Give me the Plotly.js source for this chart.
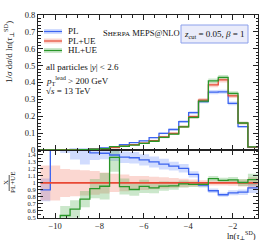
<!DOCTYPE html>
<html><head><meta charset="utf-8">
<script src="https://cdn.plot.ly/plotly-3.0.1.min.js"></script>
<style>html,body{margin:0;padding:0;background:#fff}#plot{width:266px;height:240px}</style>
</head><body><div id="plot"></div>
<script>
// bin edges in ln(tau_perp^SD)
var binEdges = [-10.66,-10.215,-9.77,-9.325,-8.88,-8.435,-7.99,-7.545,-7.10,-6.655,-6.21,-5.765,-5.32,-4.875,-4.43,-3.985,-3.54,-3.095,-2.65,-2.205,-1.76,-1.315,-0.87];
// 1/sigma dsigma/dln(tau) per bin
var PL    = [0.0009,0.0020,0.0025,0.0030,0.0040,0.0070,0.0121,0.0200,0.0320,0.0435,0.0545,0.0728,0.0990,0.1215,0.1680,0.2210,0.2870,0.3430,0.3450,0.2760,0.1380,0.0160];
var PLUE  = [0.0010,0.0011,0.0014,0.0018,0.0026,0.0049,0.0085,0.0143,0.0234,0.0320,0.0410,0.0560,0.0780,0.0980,0.1390,0.1970,0.2960,0.3860,0.4150,0.3210,0.1590,0.0172];
var HLUE  = [0.0002,0.0003,0.00075,0.00113,0.0020,0.0045,0.0081,0.0195,0.0222,0.0290,0.0390,0.0520,0.0745,0.0940,0.1370,0.1930,0.2900,0.4100,0.4300,0.3350,0.1600,0.0180];
// relative statistical uncertainties
var errPL   = [0.18,0.20,0.20,0.20,0.18,0.07,0.06,0.06,0.06,0.06,0.06,0.06,0.06,0.05,0.05,0.04,0.035,0.035,0.035,0.04,0.045,0.08];
var errPLUE = [0.25,0.25,0.20,0.19,0.18,0.17,0.15,0.13,0.12,0.10,0.10,0.09,0.08,0.07,0.06,0.05,0.04,0.035,0.035,0.04,0.05,0.08];
var errHLUE = [0.30,0.30,0.25,0.20,0.15,0.15,0.20,0.15,0.12,0.10,0.10,0.08,0.07,0.06,0.05,0.04,0.035,0.035,0.035,0.04,0.05,0.08];
var seriesNames = ['PL','PL+UE','HL+UE'];
var yTickVals = [0,0.1,0.2,0.3,0.4,0.5,0.6,0.7,0.8];
var rTickVals = [0.5,0.6,0.7,0.8,0.9,1,1.1,1.2,1.3,1.4];
var xTickVals = [-10,-8,-6,-4,-2];

var lineCol = ['rgb(60,100,240)','rgb(232,72,52)','rgb(40,150,40)'];
var bandCol = ['rgba(90,130,250,0.28)','rgba(240,110,90,0.28)','rgba(70,170,70,0.28)'];
var FONT = 'Liberation Serif, DejaVu Serif, serif';

function stepY(v){ return v.concat([v[v.length-1]]); }
function scaled(v, e, s, ref){ return v.map(function(x,i){ var r = ref ? ref[i] : 1; return x*(1+s*e[i])/r; }); }

var vals = [PL, PLUE, HLUE], errs = [errPL, errPLUE, errHLUE];
var traces = [];
for (var k=0;k<3;k++){
  traces.push({x:binEdges,y:stepY(scaled(vals[k],errs[k],-1)),xaxis:'x2',yaxis:'y',mode:'lines',line:{shape:'hv',width:0},hoverinfo:'skip',showlegend:false});
  traces.push({x:binEdges,y:stepY(scaled(vals[k],errs[k],1)),xaxis:'x2',yaxis:'y',mode:'lines',line:{shape:'hv',width:0},fill:'tonexty',fillcolor:bandCol[k],hoverinfo:'skip',showlegend:false});
}
for (var k=0;k<3;k++){
  traces.push({x:binEdges,y:stepY(vals[k]),xaxis:'x2',yaxis:'y',mode:'lines',line:{shape:'hv',width:1.3,color:lineCol[k]},name:seriesNames[k],showlegend:false});
}
for (var k=0;k<3;k++){
  traces.push({x:binEdges,y:stepY(scaled(vals[k],errs[k],-1,PLUE)),xaxis:'x',yaxis:'y2',mode:'lines',line:{shape:'hv',width:0},hoverinfo:'skip',showlegend:false});
  traces.push({x:binEdges,y:stepY(scaled(vals[k],errs[k],1,PLUE)),xaxis:'x',yaxis:'y2',mode:'lines',line:{shape:'hv',width:0},fill:'tonexty',fillcolor:bandCol[k],hoverinfo:'skip',showlegend:false});
}
for (var k=0;k<3;k++){
  traces.push({x:binEdges,y:stepY(scaled(vals[k],errs[k],0,PLUE)),xaxis:'x',yaxis:'y2',mode:'lines',line:{shape:'hv',width:k==1?1.8:1.3,color:lineCol[k]},showlegend:false});
}

var W=266,H=240,L=38,R=8,T=15,B=22;
var pw=W-L-R, ph=H-T-B;
function px(x){return (x-L)/pw;}
function py(y){return (H-B-y)/ph;}
var split = py(150);

var axBase = {showline:true,linecolor:'#222',linewidth:1,mirror:'ticks',ticks:'inside',ticklen:5,tickcolor:'#222',tickwidth:1,showgrid:false,zeroline:false,tickfont:{family:FONT,size:8.5,color:'#222'}};
function ext(o,p){var r={};for(var a in o)r[a]=o[a];for(var b in p)r[b]=p[b];return r;}

var annotations = [], shapes = [];
function txt(t,x,y,opt){ annotations.push(ext({text:t,xref:'paper',yref:'paper',x:px(x),y:py(y),xanchor:'left',yanchor:'middle',showarrow:false,font:{family:FONT,size:9,color:'#111'}},opt||{})); }

var legY=[31.5,41,50.5];
for (var k=0;k<3;k++){
  shapes.push({type:'rect',xref:'paper',yref:'paper',x0:px(44),x1:px(62),y0:py(legY[k]+2.5),y1:py(legY[k]-2.5),fillcolor:bandCol[k],line:{width:0}});
  shapes.push({type:'line',xref:'paper',yref:'paper',x0:px(44),x1:px(62),y0:py(legY[k]),y1:py(legY[k]),line:{color:lineCol[k],width:1.2}});
  txt(seriesNames[k],66,legY[k]);
}
txt('all particles |<i>y</i>| &lt; 2.6',44,67);
txt('<i>p</i><sub>T</sub><sup>lead</sup> &gt; 200 GeV',44,80);
txt('√<i>s</i> = 13 TeV',44,91);
txt('S<span style="font-size:7px">HERPA</span> MEPS@NLO',101,33,{font:{family:FONT,size:8.5,color:'#111'}});
shapes.push({type:'rect',xref:'paper',yref:'paper',x0:px(181),x1:px(248),y0:py(43),y1:py(25),fillcolor:'rgb(234,236,250)',line:{color:'rgb(140,160,235)',width:1}});
txt('<i>z</i><sub>cut</sub> = 0.05, <i>β</i> = 1',214.5,34,{xanchor:'center'});
txt('1/<i>σ</i> d<i>σ</i>/d ln(<i>τ</i><sub>⊥</sub><sup>SD</sup>)',8,52,{xanchor:'center',textangle:-90,font:{family:FONT,size:9,color:'#111'}});
txt('ln(<i>τ</i><sub>⊥</sub><sup>SD</sup>)',258,235,{xanchor:'right',font:{family:FONT,size:8.5,color:'#111'}});
txt('X',6,183,{xanchor:'center',textangle:-90,font:{family:FONT,size:7,color:'#111'}});
txt('PL+UE',13,183,{xanchor:'center',textangle:-90,font:{family:FONT,size:7,color:'#111'}});
shapes.push({type:'line',xref:'paper',yref:'paper',x0:px(9.2),x1:px(9.2),y0:py(175),y1:py(191),line:{color:'#111',width:0.7}});

var layout = {
  width:W,height:H,margin:{l:L,r:R,t:T,b:B},paper_bgcolor:'#fff',plot_bgcolor:'#fff',showlegend:false,
  xaxis: ext(axBase,{anchor:'y2',domain:[0,1],range:[-10.77,-0.86],tickvals:xTickVals,minor:{dtick:0.5,tick0:-10,ticklen:2.5,ticks:'inside',tickcolor:'#222'}}),
  xaxis2: ext(axBase,{anchor:'y',matches:'x',domain:[0,1],range:[-10.77,-0.86],tickvals:xTickVals,showticklabels:false,minor:{dtick:0.5,tick0:-10,ticklen:2.5,ticks:'inside',tickcolor:'#222'}}),
  yaxis: ext(axBase,{domain:[split,1],range:[0,0.8],tickvals:yTickVals,minor:{dtick:0.02,tick0:0,ticklen:2.5,ticks:'inside',tickcolor:'#222'}}),
  yaxis2: ext(axBase,{domain:[0,split],range:[0.5,1.47],tickvals:rTickVals,tickfont:{family:FONT,size:6.5,color:'#222'},minor:{dtick:0.05,tick0:0.5,ticklen:2.5,ticks:'inside',tickcolor:'#222'}}),
  annotations:annotations,shapes:shapes
};
Plotly.newPlot('plot',traces,layout,{staticPlot:true,displayModeBar:false});
</script></body></html>
